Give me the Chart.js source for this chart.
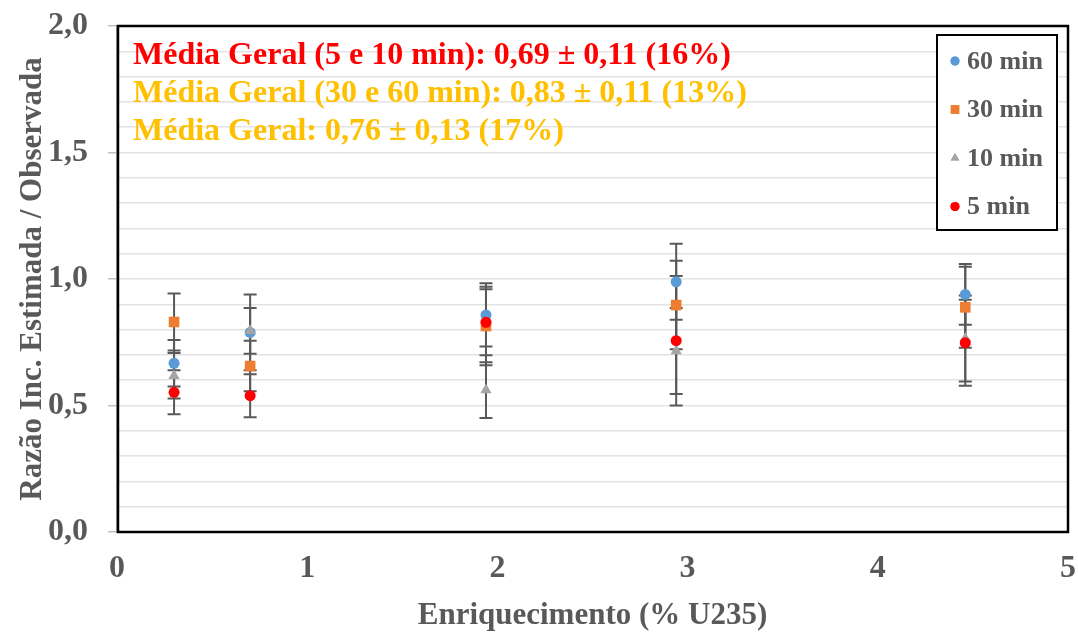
<!DOCTYPE html>
<html>
<head>
<meta charset="utf-8">
<script src="https://cdn.jsdelivr.net/npm/chart.js@4.4.1/dist/chart.umd.min.js"></script>
<style>
  html, body { margin: 0; padding: 0; background: #fff; }
  #wrap { width: 1078px; height: 633px; }
</style>
</head>
<body>
<div id="wrap"><canvas id="ratioChart" width="1078" height="633"></canvas></div>
<script>
// Data
const enrichment = [0.30, 0.70, 1.94, 2.94, 4.46];

const ratio60 = [0.667, 0.789, 0.858, 0.989, 0.939];
const err60 = [0.092, 0.15, 0.125, 0.15, 0.12];

const ratio30 = [0.830, 0.656, 0.814, 0.897, 0.888];
const err30 = [0.113, 0.10, 0.155, 0.175, 0.16];

const ratio10 = [0.618, 0.795, 0.561, 0.715, 0.765];
const err10 = [0.09, 0.09, 0.11, 0.17, 0.17];

const ratio5 = [0.552, 0.539, 0.829, 0.756, 0.748];
const err5 = [0.087, 0.085, 0.13, 0.256, 0.17];

const seriesNames = ["60 min", "30 min", "10 min", "5 min"];
const notes = [
  "Média Geral (5 e 10 min): 0,69 ± 0,11 (16%)",
  "Média Geral (30 e 60 min): 0,83 ± 0,11 (13%)",
  "Média Geral: 0,76 ± 0,13 (17%)"
];

const FONT = "'Liberation Serif', 'Times New Roman', serif";
const GREY_TXT = "#595959";

function toPoints(ys, errs) {
  return enrichment.map((x, i) => ({ x: x, y: ys[i], err: errs[i] }));
}

const series = [
  { label: seriesNames[0], data: toPoints(ratio60, err60), color: "#5B9BD5", style: "circle", radius: 5.5, legendR: 4.5, order: 4 },
  { label: seriesNames[1], data: toPoints(ratio30, err30), color: "#ED7D31", style: "rect", radius: 7.5, legendR: 6, order: 3 },
  { label: seriesNames[2], data: toPoints(ratio10, err10), color: "#A5A5A5", style: "triangle", radius: 6.5, legendR: 5, order: 2 },
  { label: seriesNames[3], data: toPoints(ratio5, err5), color: "#FF0000", style: "circle", radius: 5.5, legendR: 4.5, order: 1 }
];

// error bars, drawn below the markers
const errorBars = {
  id: "errorBars",
  beforeDatasetsDraw(chart) {
    const c = chart.ctx;
    const xs = chart.scales.x, ys = chart.scales.y;
    c.save();
    c.strokeStyle = "#595959";
    c.lineWidth = 2;
    chart.data.datasets.forEach(ds => {
      ds.data.forEach(p => {
        const px = xs.getPixelForValue(p.x);
        const top = ys.getPixelForValue(p.y + p.err);
        const bot = ys.getPixelForValue(p.y - p.err);
        c.beginPath();
        c.moveTo(px, top); c.lineTo(px, bot);
        c.moveTo(px - 6.5, top); c.lineTo(px + 6.5, top);
        c.moveTo(px - 6.5, bot); c.lineTo(px + 6.5, bot);
        c.stroke();
      });
    });
    c.restore();
  }
};

// frame, notes and legend box
const decorations = {
  id: "decorations",
  afterDraw(chart) {
    const c = chart.ctx;
    const a = chart.chartArea;
    c.save();
    c.strokeStyle = "#000";
    c.lineWidth = 2.5;
    c.strokeRect(a.left + 1, a.top, a.right - a.left - 1, a.bottom - a.top);

    c.font = "bold 32px " + FONT;
    c.textBaseline = "middle";
    c.textAlign = "left";
    const noteColors = ["#FF0000", "#FFC000", "#FFC000"];
    notes.forEach((t, i) => {
      c.fillStyle = noteColors[i];
      c.fillText(t, a.left + 16, a.top + 30 + i * 38);
    });

    // legend
    const lx = 937, ly = 35, lw = 120, lh = 195;
    c.fillStyle = "#fff";
    c.fillRect(lx, ly, lw, lh);
    c.strokeStyle = "#000";
    c.lineWidth = 2;
    c.strokeRect(lx, ly, lw, lh);
    c.font = "bold 26px " + FONT;
    chart.data.datasets.forEach((ds, i) => {
      const cy = ly + 26 + i * 48.5;
      c.fillStyle = ds.backgroundColor;
      c.beginPath();
      Chart.helpers.drawPoint(c, {
        pointStyle: ds.pointStyle, radius: series[i].legendR, borderWidth: 0, rotation: 0
      }, lx + 18, cy);
      c.fill();
      c.fillStyle = GREY_TXT;
      c.fillText(ds.label, lx + 30, cy + 1);
    });
    c.restore();
  }
};

const ctx = document.getElementById("ratioChart").getContext("2d");
const ratioChart = new Chart(ctx, {
  type: "scatter",
  data: {
    datasets: series.map(s => ({
      label: s.label,
      data: s.data,
      backgroundColor: s.color,
      borderColor: s.color,
      borderWidth: 0,
      pointStyle: s.style,
      pointRadius: s.radius,
      pointHoverRadius: s.radius,
      order: s.order
    }))
  },
  options: {
    responsive: false,
    animation: false,
    layout: { padding: { top: 26, right: 10, left: 0, bottom: 0 } },
    plugins: {
      legend: { display: false },
      tooltip: { enabled: false }
    },
    scales: {
      x: {
        type: "linear",
        min: 0, max: 5,
        afterFit: s => { s.height = 101; s.paddingLeft = 0; s.paddingRight = 0; },
        ticks: {
          stepSize: 1,
          autoSkip: false,
          color: GREY_TXT,
          font: { family: FONT, size: 32, weight: "bold" },
          padding: 10
        },
        grid: { display: false, drawTicks: true, tickLength: 8, tickColor: "#BFBFBF" },
        border: { color: "#A6A6A6", width: 2 },
        title: {
          display: true,
          text: "Enriquecimento (% U235)",
          color: GREY_TXT,
          font: { family: FONT, size: 31, weight: "bold", lineHeight: 1 },
          padding: { top: 0, bottom: 2 }
        }
      },
      y: {
        min: 0, max: 2,
        afterFit: s => { s.width = 117; s.paddingTop = 0; s.paddingBottom = 0; },
        ticks: {
          stepSize: 0.1,
          autoSkip: false,
          color: GREY_TXT,
          font: { family: FONT, size: 32, weight: "bold" },
          padding: 20,
          callback: v => {
            const r = Math.round(v * 10);
            return r % 5 === 0 ? (r / 10).toFixed(1).replace(".", ",") : "";
          }
        },
        grid: {
          color: c => (c.tick && Math.round(c.tick.value * 10) === 0) ? "transparent" : "#E3E3E3",
          lineWidth: 1.5,
          tickLength: 9,
          tickColor: c => (Math.round(c.tick.value * 10) % 5 === 0) ? "#BFBFBF" : "transparent"
        },
        border: { color: "#A6A6A6", width: 2 },
        title: {
          display: true,
          text: "Razão Inc. Estimada / Observada",
          color: GREY_TXT,
          font: { family: FONT, size: 31, weight: "bold", lineHeight: 1 },
          padding: { top: 17, bottom: 0 }
        }
      }
    }
  },
  plugins: [errorBars, decorations]
});
</script>
</body>
</html>
